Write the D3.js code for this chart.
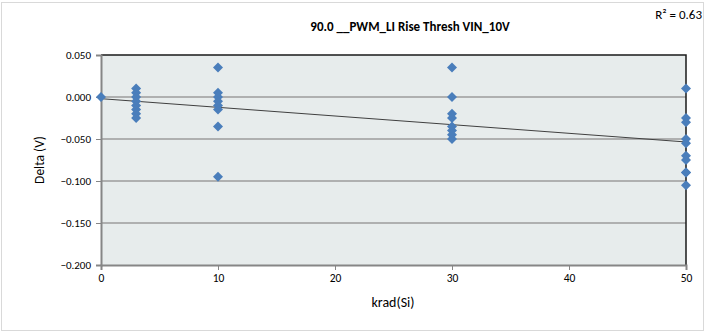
<!DOCTYPE html>
<html><head><meta charset="utf-8">
<script src="https://cdn.jsdelivr.net/npm/d3@7"></script>
<style>body{margin:0;background:#fff}svg{display:block;font-family:Carlito,Lato,"Open Sans",sans-serif}</style>
</head><body><svg id="c" width="706" height="333"></svg>
<script>
const title = "90.0 __PWM_LI Rise Thresh VIN_10V";
const rSquared = "R² = 0.63";
const xLabel = "krad(Si)";
const yLabel = "Delta (V)";
const xTicks = [0, 10, 20, 30, 40, 50];
const yTicks = [0.05, 0, -0.05, -0.1, -0.15, -0.2];
const doses = [0, 3, 10, 30, 50];
const deltas = [
  [0.000],
  [0.010, 0.005, 0.000, -0.005, -0.010, -0.015, -0.020, -0.025],
  [0.035, 0.005, 0.000, -0.005, -0.010, -0.015, -0.035, -0.095],
  [0.035, 0.000, -0.020, -0.025, -0.035, -0.040, -0.045, -0.050],
  [0.010, -0.025, -0.030, -0.050, -0.055, -0.070, -0.075, -0.090, -0.090, -0.105]
];

const pts = [];
doses.forEach((d, i) => deltas[i].forEach(v => pts.push({x: d, y: v})));

const svg = d3.select("#c");
const L = 101, R = 686, T = 55, B = 265;
const x = d3.scaleLinear().domain([0, 50]).range([L, R]);
const y = d3.scaleLinear().domain([-0.2, 0.05]).range([B, T]);

svg.append("rect").attr("x", 1.5).attr("y", 2.5).attr("width", 702).attr("height", 328)
  .attr("fill", "#fff").attr("stroke", "#d9d9d9").attr("stroke-width", 1);

svg.append("rect").attr("x", L).attr("y", T).attr("width", R - L).attr("height", B - T).attr("fill", "#e7ecec");

svg.append("g").selectAll("line").data(yTicks.filter(v => v > -0.2 && v < 0.05)).join("line")
  .attr("x1", L).attr("x2", R).attr("y1", d => y(d)).attr("y2", d => y(d))
  .attr("stroke", "#9c9c9c").attr("stroke-width", 1.3);

svg.append("path").attr("d", `M${L},${T}H${R}V${B}`).attr("fill", "none").attr("stroke", "#1a1a1a").attr("stroke-width", 1.5);

const yAxis = d3.axisLeft(y).tickValues(yTicks).tickFormat(d3.format(".3f")).tickSize(5).tickPadding(5);
const gy = svg.append("g").attr("transform", `translate(${L},0)`).call(yAxis);
gy.select(".domain").attr("stroke", "#868686").attr("stroke-width", 2);
gy.selectAll(".tick line").attr("stroke", "#868686");
gy.selectAll("text").attr("font-size", 11).attr("fill", "#000").attr("font-family", "Carlito,Lato,sans-serif");

const xAxis = d3.axisBottom(x).tickValues(xTicks).tickFormat(d3.format("d")).tickSize(5).tickPadding(4);
const gx = svg.append("g").attr("transform", `translate(0,${B})`).call(xAxis);
gx.select(".domain").attr("stroke", "#868686").attr("stroke-width", 2);
gx.selectAll(".tick line").attr("stroke", "#868686");
gx.selectAll("text").attr("font-size", 11.5).attr("fill", "#000").attr("font-family", "Carlito,Lato,sans-serif");

const mx = d3.mean(pts, d => d.x), my = d3.mean(pts, d => d.y);
const slope = d3.sum(pts, d => (d.x - mx) * (d.y - my)) / d3.sum(pts, d => (d.x - mx) ** 2);
const icpt = my - slope * mx;
svg.append("line").attr("x1", x(0)).attr("x2", x(50)).attr("y1", y(icpt)).attr("y2", y(icpt + slope * 50))
  .attr("stroke", "#404040").attr("stroke-width", 1);

const sym = d3.symbol().type(d3.symbolSquare).size(50);
svg.append("g").selectAll("path").data(pts).join("path")
  .attr("d", sym).attr("transform", d => `translate(${x(d.x)},${y(d.y)}) rotate(45)`)
  .attr("fill", "#4a7ebb");

svg.append("text").attr("x", 410).attr("y", 31).attr("text-anchor", "middle")
  .attr("font-size", 13).attr("font-weight", "bold").text(title);
svg.append("text").attr("x", 702).attr("y", 19).attr("text-anchor", "end")
  .attr("font-size", 13).text(rSquared);
svg.append("text").attr("x", 393).attr("y", 307).attr("text-anchor", "middle")
  .attr("font-size", 14).text(xLabel);
svg.append("text").attr("transform", "translate(44,160) rotate(-90)").attr("text-anchor", "middle")
  .attr("font-size", 13.5).text(yLabel);
</script></body></html>
